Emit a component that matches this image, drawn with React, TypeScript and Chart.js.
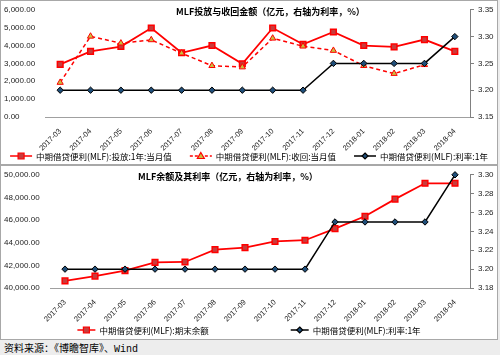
import React, { useEffect, useRef } from 'react';
import { Chart, registerables } from 'chart.js';
Chart.register(...registerables);

const categories = ['2017-03', '2017-04', '2017-05', '2017-06', '2017-07', '2017-08', '2017-09', '2017-10', '2017-11', '2017-12', '2018-01', '2018-02', '2018-03', '2018-04'];
const investment = [2945, 3670, 3945, 4980, 3595, 4000, 2980, 4980, 4070, 4760, 4000, 3925, 4335, 3670];
const recovery = [1930, 4515, 4130, 4315, 3570, 2870, 2795, 4405, 3960, 3720, 2870, 2430, 2925, null];
const rate = [3.2, 3.2, 3.2, 3.2, 3.2, 3.2, 3.2, 3.2, 3.2, 3.25, 3.25, 3.25, 3.25, 3.3];
const balance = [40625, 41055, 41540, 42260, 42300, 43390, 43560, 44110, 44220, 45250, 46340, 47850, 49250, 49250];

const title1 = 'MLF投放与收回金额（亿元，右轴为利率，%）';
const title2 = 'MLF余额及其利率（亿元，右轴为利率，%）';
const nameInvest = '中期借贷便利(MLF):投放:1年:当月值';
const nameRecover = '中期借贷便利(MLF):收回:当月值';
const nameRate = '中期借贷便利(MLF):利率:1年';
const nameBalance = '中期借贷便利(MLF):期末余额';

const RED = '#ff0000';
const SQ_FILL = '#c83c3c';
const TRI_FILL = '#c8c040';
const DIA_FILL = '#1f4e79';
const TICK_FONT = { family: "'Liberation Sans', Arial, sans-serif", size: 8 };
const XTICK_FONT = { family: "'Liberation Sans', Arial, sans-serif", size: 7.5 };
const CJK = "'Noto Sans CJK SC', sans-serif";

const fmtThousands = (v: number) =>
  Number(v).toLocaleString('en-US', { minimumFractionDigits: 2, maximumFractionDigits: 2 });

function drawMarker(ctx: CanvasRenderingContext2D, kind: string, x: number, y: number, fill: string, stroke: string) {
  ctx.save();
  ctx.fillStyle = fill;
  ctx.strokeStyle = stroke;
  ctx.lineWidth = 1.2;
  ctx.beginPath();
  if (kind === 'rect') {
    ctx.rect(x - 3, y - 3, 6, 6);
  } else if (kind === 'triangle') {
    ctx.moveTo(x, y - 3.5);
    ctx.lineTo(x + 3.5, y + 2.5);
    ctx.lineTo(x - 3.5, y + 2.5);
    ctx.closePath();
  } else {
    ctx.moveTo(x, y - 3);
    ctx.lineTo(x + 3, y);
    ctx.lineTo(x, y + 3);
    ctx.lineTo(x - 3, y);
    ctx.closePath();
  }
  ctx.fill();
  ctx.stroke();
  ctx.restore();
}

type LegendItem = { text: string; color: string; dash?: number[]; marker: string; fill: string; mstroke: string };

function makeOverlay(id: string, titleText: string, titleX: number, titleY: number, items: LegendItem[], legendY: number, gap: number, lineLen: number) {
  return {
    id,
    afterDraw(chart: any) {
      const ctx: CanvasRenderingContext2D = chart.ctx;
      ctx.save();
      ctx.font = `bold 9px ${CJK}`;
      ctx.fillStyle = '#000';
      ctx.textAlign = 'left';
      ctx.textBaseline = 'middle';
      ctx.fillText(titleText, titleX, titleY);

      ctx.font = `8.5px ${CJK}`;
      const widths = items.map((it) => ctx.measureText(it.text).width);
      const total = items.reduce((s, _it, i) => s + lineLen + 4 + widths[i], 0) + gap * (items.length - 1);
      let x = (chart.width - total) / 2;
      items.forEach((it, i) => {
        ctx.strokeStyle = it.color;
        ctx.lineWidth = 1.5;
        ctx.setLineDash(it.dash || []);
        ctx.beginPath();
        ctx.moveTo(x, legendY);
        ctx.lineTo(x + lineLen, legendY);
        ctx.stroke();
        ctx.setLineDash([]);
        drawMarker(ctx, it.marker, x + lineLen / 2, legendY, it.fill, it.mstroke);
        ctx.fillStyle = '#000';
        ctx.textAlign = 'left';
        ctx.textBaseline = 'middle';
        ctx.fillText(it.text, x + lineLen + 4, legendY + 0.5);
        x += lineLen + 4 + widths[i] + gap;
      });
      ctx.restore();
    },
  };
}

function baseScales(leftMin: number, leftMax: number, leftStep: number, rightMin: number, rightMax: number, rightStep: number, leftW: number, rightW: number, xH: number) {
  return {
    x: {
      offset: true,
      grid: { display: false, drawTicks: false },
      border: { display: true, color: '#a0a0a0', width: 1 },
      ticks: { color: '#222', font: XTICK_FONT, minRotation: 45, maxRotation: 45, autoSkip: false, padding: 10 },
      afterFit: (s: any) => { s.height = xH; },
    },
    y: {
      position: 'left',
      min: leftMin,
      max: leftMax,
      grid: { display: false },
      border: { display: false },
      ticks: { stepSize: leftStep, color: '#222', font: TICK_FONT, crossAlign: 'far', callback: (v: any) => fmtThousands(v) },
      afterFit: (s: any) => { s.width = leftW; },
    },
    y1: {
      position: 'right',
      min: rightMin,
      max: rightMax,
      grid: { display: true, drawOnChartArea: false, drawTicks: true, tickLength: 4, color: '#808080' },
      border: { display: true, color: '#808080', width: 1 },
      ticks: { stepSize: rightStep, color: '#222', font: TICK_FONT, padding: 4, callback: (v: any) => Number(v).toFixed(2) },
      afterFit: (s: any) => { s.width = rightW; },
    },
  };
}

const rateDataset = (label: string) => ({
  label,
  data: rate,
  yAxisID: 'y1',
  borderColor: '#000',
  borderWidth: 1.5,
  pointStyle: 'rectRot',
  pointRadius: 3.2,
  pointBackgroundColor: DIA_FILL,
  pointBorderColor: '#000',
  pointBorderWidth: 1,
  tension: 0,
  clip: false,
});

function topConfig(): any {
  const items: LegendItem[] = [
    { text: nameInvest, color: RED, marker: 'rect', fill: SQ_FILL, mstroke: RED },
    { text: nameRecover, color: RED, dash: [3, 2], marker: 'triangle', fill: TRI_FILL, mstroke: RED },
    { text: nameRate, color: '#000', marker: 'diamond', fill: DIA_FILL, mstroke: '#000' },
  ];
  return {
    type: 'line',
    data: {
      labels: categories,
      datasets: [
        rateDataset(nameRate),
        {
          label: nameRecover,
          data: recovery,
          yAxisID: 'y',
          borderColor: RED,
          borderWidth: 1.5,
          borderDash: [4, 3],
          pointStyle: 'triangle',
          pointRadius: 3.6,
          pointBackgroundColor: TRI_FILL,
          pointBorderColor: RED,
          pointBorderWidth: 1,
          tension: 0,
          clip: false,
        },
        {
          label: nameInvest,
          data: investment,
          yAxisID: 'y',
          borderColor: RED,
          borderWidth: 1.8,
          pointStyle: 'rect',
          pointRadius: 4,
          pointBackgroundColor: SQ_FILL,
          pointBorderColor: RED,
          pointBorderWidth: 1.5,
          tension: 0,
          clip: false,
        },
      ],
    },
    options: {
      responsive: false,
      animation: false,
      devicePixelRatio: 1,
      layout: { padding: { top: 8, left: 3, right: 0, bottom: 0 } },
      plugins: { legend: { display: false }, tooltip: { enabled: false } },
      scales: baseScales(0, 6000, 1000, 3.15, 3.35, 0.05, 41, 27, 47),
    },
    plugins: [makeOverlay('ov1', title1, 175, 11, items, 155, 18, 22)],
  };
}

function bottomConfig(): any {
  const items: LegendItem[] = [
    { text: nameBalance, color: RED, marker: 'rect', fill: SQ_FILL, mstroke: RED },
    { text: nameRate, color: '#000', marker: 'diamond', fill: DIA_FILL, mstroke: '#000' },
  ];
  return {
    type: 'line',
    data: {
      labels: categories,
      datasets: [
        rateDataset(nameRate),
        {
          label: nameBalance,
          data: balance,
          yAxisID: 'y',
          borderColor: RED,
          borderWidth: 1.8,
          pointStyle: 'rect',
          pointRadius: 4,
          pointBackgroundColor: SQ_FILL,
          pointBorderColor: RED,
          pointBorderWidth: 1.5,
          tension: 0,
          clip: false,
        },
      ],
    },
    options: {
      responsive: false,
      animation: false,
      devicePixelRatio: 1,
      layout: { padding: { top: 5, left: 3, right: 0, bottom: 0 } },
      plugins: { legend: { display: false }, tooltip: { enabled: false } },
      scales: baseScales(40000, 50000, 2000, 3.18, 3.3, 0.02, 46, 27, 51),
    },
    plugins: [makeOverlay('ov2', title2, 137, 11, items, 164, 82, 18)],
  };
}

export default function App() {
  const c1 = useRef<HTMLCanvasElement>(null);
  const c2 = useRef<HTMLCanvasElement>(null);
  useEffect(() => {
    const ch1 = new Chart(c1.current as HTMLCanvasElement, topConfig());
    const ch2 = new Chart(c2.current as HTMLCanvasElement, bottomConfig());
    return () => {
      ch1.destroy();
      ch2.destroy();
    };
  }, []);
  return (
    <div style={{ position: 'fixed', left: 0, top: 0, width: 500, height: 355, background: '#ededed', overflow: 'hidden' }}>
      <div style={{ position: 'absolute', left: 0, top: 0, width: 498, height: 165, boxSizing: 'border-box', border: '1px solid #a8a8a8', background: '#fff' }}>
        <canvas ref={c1} width={496} height={163} style={{ display: 'block', width: 496, height: 163 }} />
      </div>
      <div style={{ position: 'absolute', left: 0, top: 165, width: 498, height: 175, boxSizing: 'border-box', border: '1px solid #a8a8a8', background: '#fff' }}>
        <canvas ref={c2} width={496} height={173} style={{ display: 'block', width: 496, height: 173 }} />
      </div>
      <div style={{ position: 'absolute', left: 4, top: 341, fontFamily: "'Noto Sans CJK SC', 'Liberation Mono', monospace", fontSize: 10, lineHeight: '14px', color: '#000', whiteSpace: 'nowrap' }}>
        资料来源：《博瞻智库》、<span style={{ fontFamily: "'Liberation Mono', monospace" }}>Wind</span>
      </div>
    </div>
  );
}
